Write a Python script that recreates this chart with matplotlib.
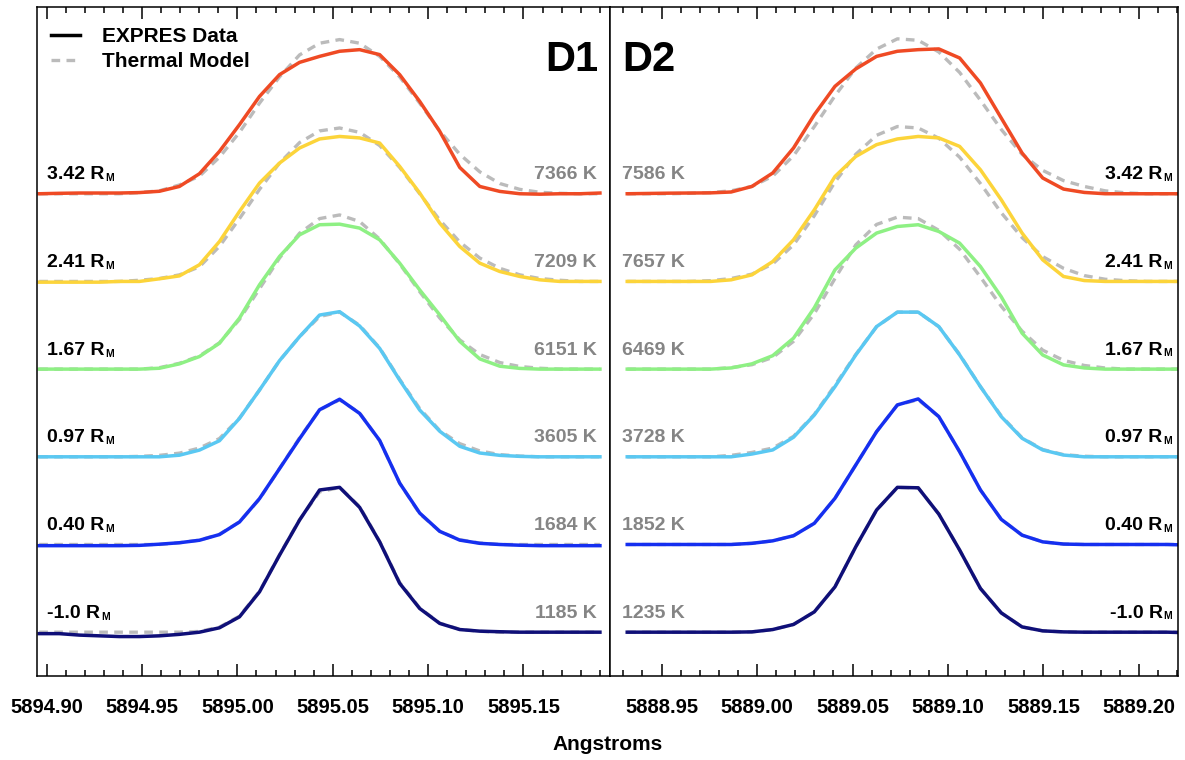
import numpy as np
import matplotlib
matplotlib.use("Agg")
import matplotlib.pyplot as plt
from matplotlib.lines import Line2D
from matplotlib.ticker import MultipleLocator, FormatStrFormatter
from matplotlib.transforms import offset_copy

plt.rcParams['font.family'] = ['Liberation Sans', 'DejaVu Sans']
plt.rcParams['font.weight'] = 'bold'

# wavelength samples (Angstrom)
wave_d1 = [5894.8961, 5894.9066, 5894.9171, 5894.9276, 5894.9381, 5894.9486, 5894.9591,
           5894.9696, 5894.9801, 5894.9906, 5895.0011, 5895.0116, 5895.0221, 5895.0326,
           5895.0431, 5895.0536, 5895.0641, 5895.0746, 5895.0851, 5895.0956, 5895.1061,
           5895.1166, 5895.1271, 5895.1376, 5895.1481, 5895.1586, 5895.1691, 5895.1796,
           5895.1901]
wave_d2 = [5888.9320, 5888.9429, 5888.9538, 5888.9647, 5888.9756, 5888.9864, 5888.9973,
           5889.0082, 5889.0191, 5889.0300, 5889.0408, 5889.0517, 5889.0626, 5889.0735,
           5889.0844, 5889.0952, 5889.1061, 5889.1170, 5889.1279, 5889.1388, 5889.1496,
           5889.1605, 5889.1714, 5889.1823, 5889.1932, 5889.2040, 5889.2149, 5889.2258]

# altitude labels, temperatures (bottom to top)
radii = ['-1.0', '0.40', '0.97', '1.67', '2.41', '3.42']
temps_d1 = [1185, 1684, 3605, 6151, 7209, 7366]
temps_d2 = [1235, 1852, 3728, 6469, 7657, 7586]
colors = ['#0f0f78', '#152ff0', '#5ac8f2', '#8ef084', '#fcd43a', '#ef4a24']

# D1 normalised emission profiles (EXPRES data)
navy_d1 = [-0.01, -0.01, -0.02, -0.025, -0.03, -0.03, -0.025, -0.015, 0.0, 0.03, 0.105, 0.276,
           0.527, 0.767, 0.973, 0.991, 0.854, 0.618, 0.334, 0.162, 0.06, 0.018, 0.007, 0.003,
           0.0, 0.0, 0.0, 0.0, 0.0]
blue_d1 = [-0.008, -0.008, -0.008, -0.008, -0.008, -0.006, 0.002, 0.012, 0.029, 0.068, 0.154,
           0.314, 0.519, 0.724, 0.922, 0.994, 0.897, 0.712, 0.42, 0.215, 0.09, 0.03, 0.008,
           0.0, -0.005, -0.008, -0.008, -0.008, -0.008]
cyan_d1 = [0.0, 0.0, 0.0, 0.0, 0.0, 0.0, 0.0, 0.011, 0.046, 0.11, 0.263, 0.457, 0.658, 0.822,
           0.97, 0.993, 0.895, 0.742, 0.525, 0.32, 0.175, 0.072, 0.026, 0.01, 0.003, 0.0, 0.0,
           0.0, 0.0]
green_d1 = [0.0, 0.0, 0.0, 0.0, 0.0, 0.0, 0.006, 0.036, 0.086, 0.177, 0.349, 0.577, 0.771,
            0.919, 0.988, 0.992, 0.965, 0.885, 0.725, 0.542, 0.371, 0.19, 0.07, 0.02, 0.005,
            0.0, 0.0, 0.0, 0.0]
yellow_d1 = [-0.005, -0.005, -0.005, -0.005, 0.0, 0.0, 0.018, 0.038, 0.114, 0.273, 0.479, 0.673,
             0.81, 0.913, 0.975, 0.992, 0.982, 0.947, 0.787, 0.605, 0.399, 0.239, 0.125, 0.068,
             0.034, 0.011, 0.0, 0.0, 0.0]
red_d1 = [0.0, 0.003, 0.005, 0.005, 0.005, 0.008, 0.017, 0.05, 0.137, 0.29, 0.473, 0.666,
          0.815, 0.899, 0.94, 0.975, 0.986, 0.952, 0.815, 0.632, 0.427, 0.18, 0.05, 0.016, 0.0,
          -0.003, 0.0, 0.0, 0.005]

# D1 thermal model
navy_m1 = [0.0, 0.0, 0.0, 0.0, 0.0, 0.0, 0.0, 0.0, 0.005, 0.035, 0.11, 0.28, 0.53, 0.77, 0.96,
           0.99, 0.86, 0.62, 0.34, 0.165, 0.062, 0.02, 0.006, 0.0, 0.0, 0.0, 0.0, 0.0, 0.0]
blue_m1 = [0.0, 0.0, 0.0, 0.0, 0.0, 0.0, 0.0, 0.012, 0.03, 0.07, 0.155, 0.31, 0.52, 0.73, 0.92,
           0.99, 0.9, 0.71, 0.42, 0.21, 0.09, 0.033, 0.01, 0.0, 0.0, 0.0, 0.0, 0.0, 0.0]
cyan_m1 = [0.0, 0.0, 0.0, 0.0, 0.0, 0.003, 0.01, 0.025, 0.06, 0.125, 0.265, 0.457, 0.658, 0.822,
           0.96, 0.99, 0.9, 0.745, 0.53, 0.33, 0.18, 0.09, 0.04, 0.015, 0.005, 0.0, 0.0, 0.0, 0.0]
green_m1 = [0.0, 0.0, 0.0, 0.0, 0.0, 0.0, 0.01, 0.04, 0.09, 0.18, 0.34, 0.55, 0.76, 0.93, 1.03,
            1.055, 1.01, 0.89, 0.72, 0.53, 0.35, 0.2, 0.1, 0.045, 0.018, 0.006, 0.0, 0.0, 0.0]
yellow_m1 = [0.0, 0.0, 0.0, 0.0, 0.0, 0.008, 0.02, 0.045, 0.1, 0.24, 0.43, 0.63, 0.81, 0.95,
             1.03, 1.05, 1.02, 0.93, 0.78, 0.6, 0.42, 0.27, 0.16, 0.09, 0.045, 0.02, 0.008, 0.0,
             0.0]
red_m1 = [0.0, 0.0, 0.0, 0.0, 0.0, 0.008, 0.02, 0.06, 0.12, 0.25, 0.42, 0.62, 0.8, 0.95, 1.03,
          1.055, 1.03, 0.94, 0.8, 0.62, 0.43, 0.27, 0.15, 0.07, 0.03, 0.01, 0.003, 0.0, 0.0]

# D2 normalised emission profiles (EXPRES data)
navy_d2 = [0.0, 0.0, 0.0, 0.0, 0.0, 0.0, 0.002, 0.018, 0.053, 0.139, 0.31, 0.584, 0.836, 0.991,
           0.988, 0.808, 0.562, 0.299, 0.132, 0.036, 0.009, 0.002, 0.0, 0.0, 0.0, 0.0, 0.0,
           -0.004]
blue_d2 = [0.0, 0.0, 0.0, 0.0, 0.0, 0.0, 0.008, 0.025, 0.06, 0.145, 0.316, 0.544, 0.772, 0.955,
           0.996, 0.875, 0.635, 0.373, 0.172, 0.064, 0.018, 0.003, 0.0, 0.0, 0.0, 0.0, 0.0,
           -0.004]
cyan_d2 = [0.0, 0.0, 0.0, 0.0, 0.0, 0.0, 0.019, 0.047, 0.134, 0.286, 0.48, 0.697, 0.891, 0.99,
           0.99, 0.891, 0.697, 0.48, 0.275, 0.127, 0.047, 0.012, 0.0, 0.0, 0.0, 0.0, 0.0, 0.0]
green_d2 = [0.0, 0.0, 0.0, 0.0, 0.0, 0.008, 0.036, 0.092, 0.212, 0.42, 0.679, 0.828, 0.931,
            0.976, 0.988, 0.942, 0.862, 0.702, 0.495, 0.246, 0.097, 0.029, 0.008, 0.0, 0.0, 0.0,
            0.0, 0.0]
yellow_d2 = [0.0, 0.0, 0.0, 0.0, 0.0, 0.011, 0.045, 0.136, 0.285, 0.49, 0.718, 0.855, 0.936,
             0.975, 0.992, 0.982, 0.924, 0.764, 0.559, 0.331, 0.148, 0.034, 0.006, 0.0, 0.0, 0.0,
             0.0, 0.0]
red_d2 = [0.0, 0.002, 0.004, 0.005, 0.006, 0.012, 0.05, 0.142, 0.313, 0.541, 0.735, 0.854, 0.94,
          0.975, 0.986, 0.991, 0.929, 0.758, 0.518, 0.279, 0.108, 0.032, 0.009, 0.0, 0.0, 0.0,
          0.0, 0.0]

# D2 thermal model
navy_m2 = [0.0, 0.0, 0.0, 0.0, 0.0, 0.0, 0.002, 0.018, 0.053, 0.139, 0.31, 0.584, 0.836, 0.99,
           0.988, 0.808, 0.562, 0.299, 0.132, 0.036, 0.009, 0.002, 0.0, 0.0, 0.0, 0.0, 0.0, 0.0]
blue_m2 = [0.0, 0.0, 0.0, 0.0, 0.0, 0.0, 0.008, 0.025, 0.06, 0.145, 0.316, 0.544, 0.772, 0.955,
           0.99, 0.875, 0.635, 0.373, 0.172, 0.064, 0.018, 0.003, 0.0, 0.0, 0.0, 0.0, 0.0, 0.0]
cyan_m2 = [0.0, 0.0, 0.0, 0.0, 0.0, 0.01, 0.03, 0.06, 0.14, 0.29, 0.49, 0.7, 0.89, 0.99, 0.99,
           0.89, 0.7, 0.48, 0.28, 0.13, 0.05, 0.015, 0.004, 0.0, 0.0, 0.0, 0.0, 0.0]
green_m2 = [0.0, 0.0, 0.0, 0.0, 0.0, 0.01, 0.03, 0.08, 0.19, 0.38, 0.62, 0.85, 0.99, 1.04, 1.03,
            0.95, 0.82, 0.63, 0.43, 0.26, 0.13, 0.06, 0.025, 0.008, 0.0, 0.0, 0.0, 0.0]
yellow_m2 = [0.0, 0.0, 0.0, 0.0, 0.005, 0.02, 0.05, 0.12, 0.25, 0.45, 0.68, 0.87, 1.0, 1.06,
             1.05, 0.98, 0.85, 0.67, 0.47, 0.3, 0.17, 0.09, 0.04, 0.015, 0.005, 0.0, 0.0, 0.0]
red_m2 = [0.0, 0.0, 0.0, 0.003, 0.008, 0.02, 0.05, 0.12, 0.26, 0.46, 0.67, 0.86, 0.99, 1.06,
          1.05, 0.97, 0.83, 0.64, 0.44, 0.27, 0.16, 0.09, 0.05, 0.02, 0.006, 0.0, 0.0, 0.0]

data_d1 = [navy_d1, blue_d1, cyan_d1, green_d1, yellow_d1, red_d1]
model_d1 = [navy_m1, blue_m1, cyan_m1, green_m1, yellow_m1, red_m1]
data_d2 = [navy_d2, blue_d2, cyan_d2, green_d2, yellow_d2, red_d2]
model_d2 = [navy_m2, blue_m2, cyan_m2, green_m2, yellow_m2, red_m2]

offset = 0.6
gray_txt = '#858585'
model_col = '#bbbbbb'
lab_size = 14
sub_size = 7.5

fig = plt.figure(figsize=(11.85, 7.6), dpi=100)
ax1 = fig.add_axes([0.0315, 0.1105, 0.4833, 0.8807])
ax2 = fig.add_axes([0.5148, 0.1105, 0.4795, 0.8807])


def draw_panel(ax, wave, data, model):
    for i in range(6):
        off = offset * i
        ax.plot(wave, np.array(model[i]) + off, color=model_col, lw=2.4,
                dashes=(2.6, 1.9), zorder=1)
        ax.plot(wave, np.array(data[i]) + off, color=colors[i], lw=2.5, zorder=2)
    ax.set_ylim(-0.30, 4.28)
    ax.set_yticks([])
    ax.xaxis.set_major_locator(MultipleLocator(0.05))
    ax.xaxis.set_minor_locator(MultipleLocator(0.01))
    ax.xaxis.set_major_formatter(FormatStrFormatter('%.2f'))
    ax.tick_params(axis='x', which='both', direction='in', top=True, bottom=True,
                   labelsize=14.5, pad=16, width=1.1)
    ax.tick_params(axis='x', which='major', length=8.5)
    ax.tick_params(axis='x', which='minor', length=4.3)
    for lab in ax.get_xticklabels():
        lab.set_fontweight('bold')
    for sp in ax.spines.values():
        sp.set_linewidth(1.1)


def radius_left(ax, x, y, txt):
    # "x.xx R" with a small subscript M after it
    t = ax.text(x, y, txt + ' R', transform=ax.get_yaxis_transform(), ha='left',
                va='baseline', fontsize=lab_size, fontweight='bold')
    ax.annotate('M', xy=(1, 0), xycoords=t, xytext=(0.5, 0), textcoords='offset points',
                ha='left', va='bottom', fontsize=sub_size, fontweight='bold')


def radius_right(ax, x, y, txt):
    tr = ax.get_yaxis_transform()
    ax.text(x, y, 'M', transform=offset_copy(tr, fig=fig, y=-1.3, units='points'),
            ha='right', va='baseline', fontsize=sub_size, fontweight='bold')
    ax.text(x, y, txt + ' R', transform=offset_copy(tr, fig=fig, x=-6.8, units='points'),
            ha='right', va='baseline', fontsize=lab_size, fontweight='bold')


draw_panel(ax1, wave_d1, data_d1, model_d1)
draw_panel(ax2, wave_d2, data_d2, model_d2)
ax1.set_xlim(5894.8951, 5895.1954)
ax2.set_xlim(5888.9230, 5889.2206)

tr1 = ax1.get_yaxis_transform()
tr2 = ax2.get_yaxis_transform()
for i in range(6):
    yb = offset * i + 0.10
    radius_left(ax1, 0.017, yb, radii[i])
    radius_right(ax2, 0.989, yb, radii[i])
    ax1.text(0.977, yb, f'{temps_d1[i]} K', transform=tr1, ha='right', va='baseline',
             fontsize=lab_size, fontweight='bold', color=gray_txt)
    ax2.text(0.021, yb, f'{temps_d2[i]} K', transform=tr2, ha='left', va='baseline',
             fontsize=lab_size, fontweight='bold', color=gray_txt)

ax1.text(0.979, 0.92, 'D1', transform=ax1.transAxes, ha='right', va='center',
         fontsize=30, fontweight='bold')
ax2.text(0.021, 0.92, 'D2', transform=ax2.transAxes, ha='left', va='center',
         fontsize=30, fontweight='bold')

handles = [Line2D([], [], color='black', lw=2.5),
           Line2D([], [], color=model_col, lw=2.4, dashes=(2.6, 1.9))]
ax1.legend(handles, ['EXPRES Data', 'Thermal Model'], loc='upper left',
           bbox_to_anchor=(0.0105, 0.98), frameon=False, handlelength=1.4,
           handletextpad=1.05, borderaxespad=0.0, borderpad=0.35, labelspacing=0.27,
           prop={'size': 15, 'weight': 'bold'})

fig.text(0.513, 0.02, 'Angstroms', ha='center', va='center', fontsize=15,
         fontweight='bold')

fig.savefig('out.png', dpi=100)
